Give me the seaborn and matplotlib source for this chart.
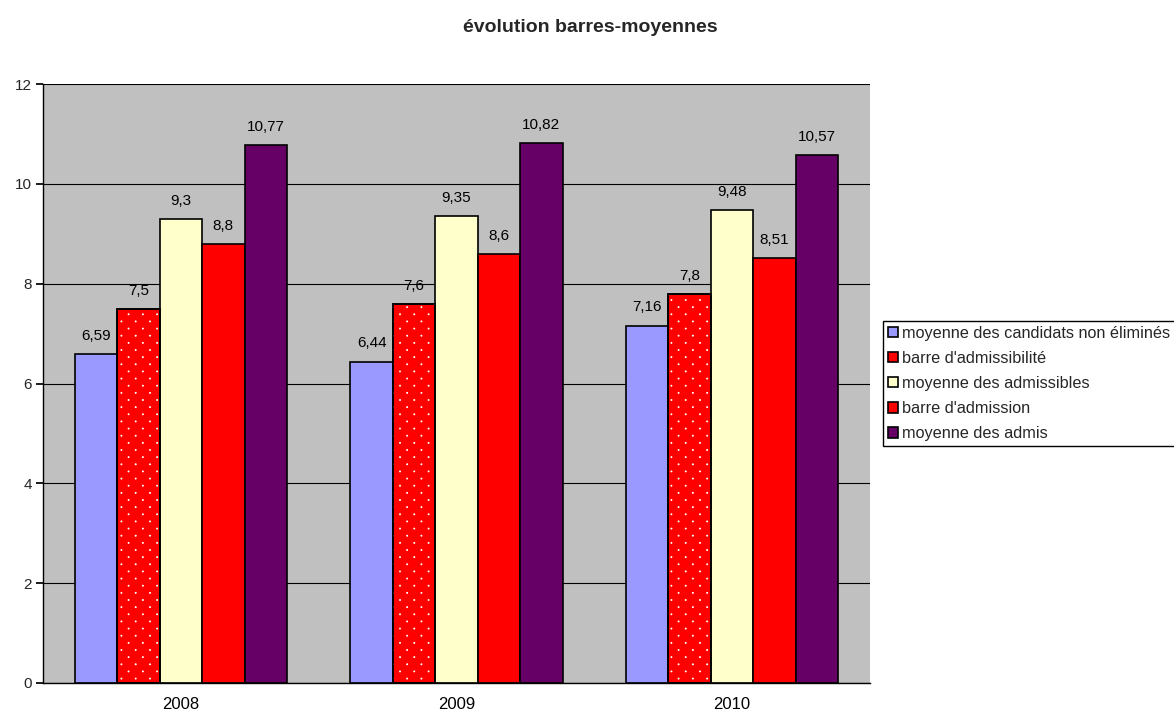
import matplotlib
matplotlib.use("Agg")
import matplotlib.pyplot as plt
from matplotlib import hatch as mhatch
from matplotlib.path import Path
import numpy as np
import seaborn as sns
import pandas as pd

years = ["2008", "2009", "2010"]
series = [
    "moyenne des candidats non éliminés",
    "barre d'admissibilité",
    "moyenne des admissibles",
    "barre d'admission",
    "moyenne des admis",
]
non_elimines = [6.59, 6.44, 7.16]
barre_admissibilite = [7.5, 7.6, 7.8]
moy_admissibles = [9.3, 9.35, 9.48]
barre_admission = [8.8, 8.6, 8.51]
moy_admis = [10.77, 10.82, 10.57]
values = [non_elimines, barre_admissibilite, moy_admissibles, barre_admission, moy_admis]
value_labels = [
    ["6,59", "6,44", "7,16"],
    ["7,5", "7,6", "7,8"],
    ["9,3", "9,35", "9,48"],
    ["8,8", "8,6", "8,51"],
    ["10,77", "10,82", "10,57"],
]
colors = ["#9999FF", "#FF0000", "#FFFFCC", "#FF0000", "#660066"]


class StaggeredDots(mhatch.HatchPatternBase):
    """Sparse staggered dot texture used for the '.' hatch."""
    cols, rows, radius = 7, 14, 0.0055

    def __init__(self, hatch, density):
        self.centers = []
        if hatch.count(".") > 0:
            for i in range(self.rows + 1):
                y = i / self.rows
                if i % 2 == 0:
                    xs = np.linspace(0, 1, self.cols + 1)
                else:
                    xs = (np.arange(self.cols) + 0.5) / self.cols
                for x in xs:
                    self.centers.append((x, y))
        circle = Path.unit_circle()
        self.shape_vertices = circle.vertices * self.radius
        self.shape_codes = circle.codes
        self.num_vertices = len(self.centers) * len(self.shape_vertices)

    def set_vertices_and_codes(self, vertices, codes):
        n = len(self.shape_vertices)
        cursor = 0
        for cx, cy in self.centers:
            vertices[cursor:cursor + n] = self.shape_vertices + (cx, cy)
            codes[cursor:cursor + n] = self.shape_codes
            cursor += n


mhatch._hatch_types[:] = [StaggeredDots if t is mhatch.SmallFilledCircles else t
                          for t in mhatch._hatch_types]

rows = []
for name, vals in zip(series, values):
    for y, v in zip(years, vals):
        rows.append({"année": y, "série": name, "note": v})
df = pd.DataFrame(rows)

sns.set_theme(style="white")
plt.rcParams["font.family"] = ["Liberation Sans", "DejaVu Sans"]
plt.rcParams["hatch.linewidth"] = 0.6

fig = plt.figure(figsize=(11.74, 7.13), dpi=100)
ax = fig.add_axes([43 / 1174, 1 - 683 / 713, (870 - 43) / 1174, (683 - 84) / 713])
ax.set_facecolor("#C0C0C0")

sns.barplot(data=df, x="année", y="note", hue="série", hue_order=series,
            palette=colors, width=0.77, edgecolor="black", linewidth=1.2,
            saturation=1, ax=ax, legend=True)

# white dotted texture on the admissibility bar
for bar in ax.containers[1]:
    cx = bar.get_x() + bar.get_width() / 2
    ax.bar(cx, bar.get_height(), width=bar.get_width(), facecolor="none",
           edgecolor="white", linewidth=0, hatch=".", zorder=bar.get_zorder() + 0.1)
    ax.bar(cx, bar.get_height(), width=bar.get_width(), facecolor="none",
           edgecolor="black", linewidth=1.2, zorder=bar.get_zorder() + 0.2)

for cont, labs in zip(ax.containers[:5], value_labels):
    ax.bar_label(cont, labels=labs, padding=8, fontsize=11, color="black")

ax.set_ylim(0, 12)
ax.set_yticks(range(0, 13, 2))
ax.set_xlim(-0.5, 2.5)
ax.yaxis.grid(True, color="black", linewidth=0.8)
ax.set_axisbelow(True)
ax.set_xlabel("")
ax.set_ylabel("")
for s in ["top", "right"]:
    ax.spines[s].set_visible(False)
for s in ["left", "bottom"]:
    ax.spines[s].set_color("black")
    ax.spines[s].set_linewidth(1.0)
ax.set_xticks([-0.5, 0.5, 1.5, 2.5], minor=True)
ax.tick_params(axis="x", which="major", length=0, labelsize=12, pad=10, colors="black")
ax.tick_params(axis="x", which="minor", length=5, direction="out", color="black")
ax.tick_params(axis="y", length=5, direction="out", labelsize=11, color="black", left=True, pad=3)

handles, labels = ax.get_legend_handles_labels()
ax.get_legend().remove()
leg = fig.legend(handles[:5], labels[:5], loc="upper left",
                 bbox_to_anchor=(883 / 1174, 1 - 321 / 713), fontsize=11.7,
                 frameon=True, fancybox=False, framealpha=1, edgecolor="black",
                 handlelength=0.6, handleheight=0.6, handletextpad=0.3,
                 labelspacing=0.62, borderpad=0.3, borderaxespad=0)
leg.get_frame().set_linewidth(1.0)

fig.text(590 / 1174, 1 - 27 / 713, "évolution barres-moyennes", ha="center", va="center",
         fontsize=14, fontweight="bold")

fig.savefig("out.png", dpi=100)
